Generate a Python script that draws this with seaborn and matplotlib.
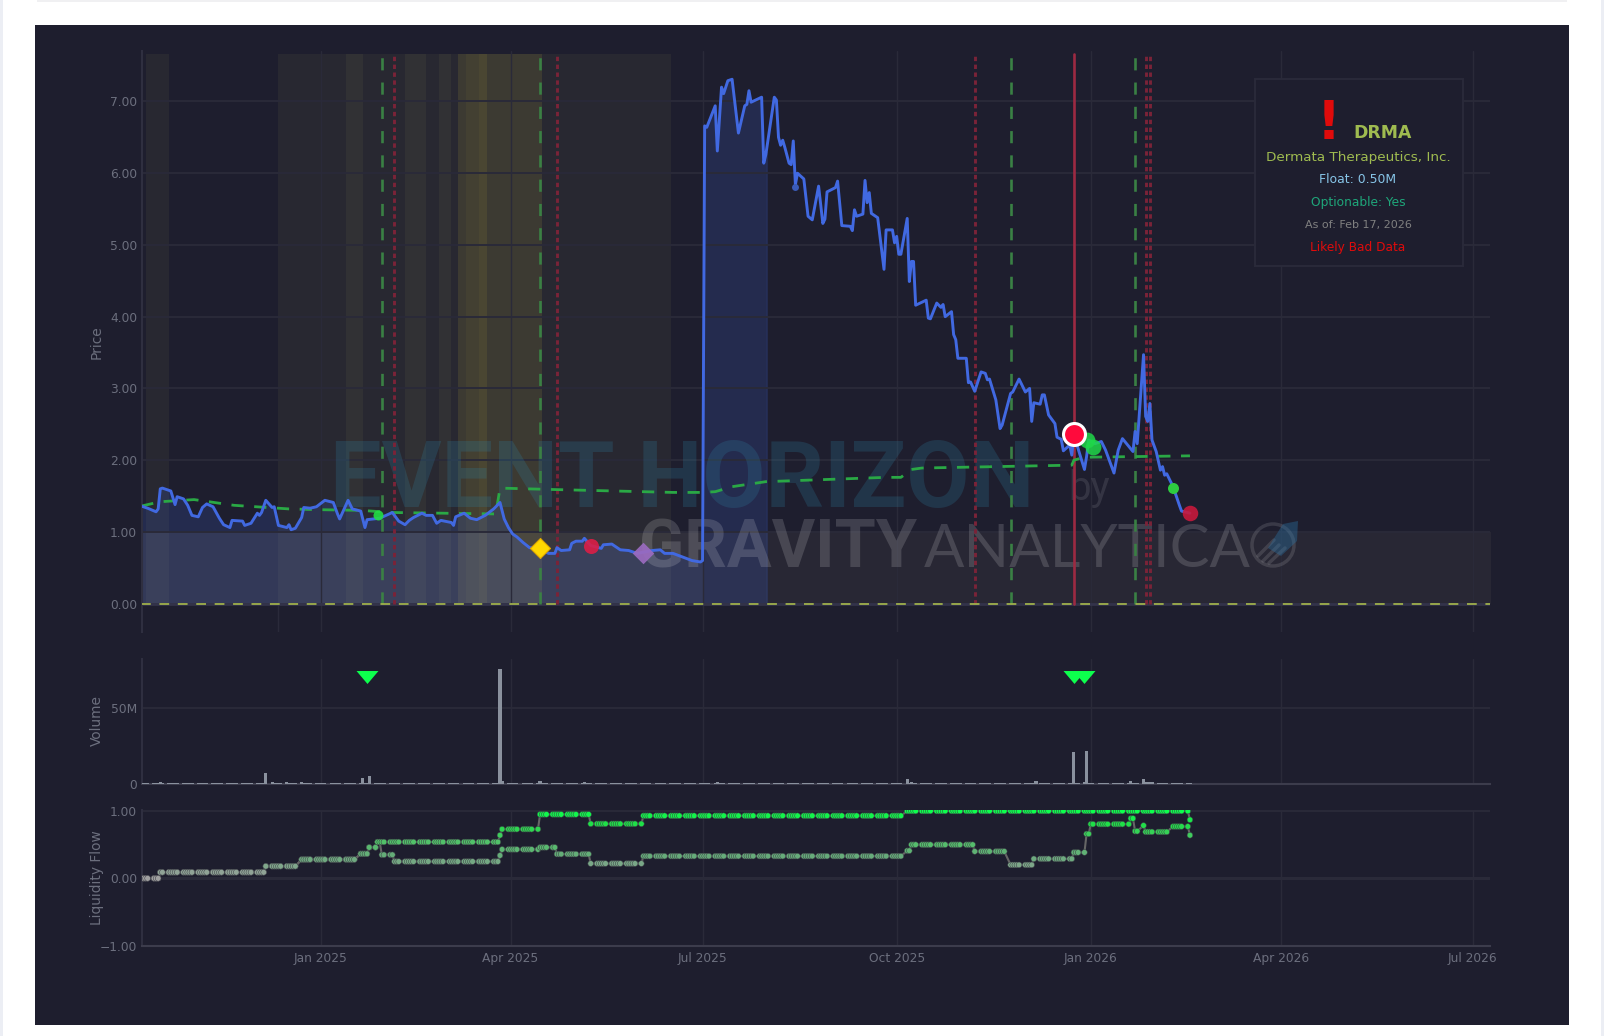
import numpy as np
import pandas as pd
import matplotlib
matplotlib.use('Agg')
import matplotlib.pyplot as plt
import matplotlib.dates as mdates
from matplotlib.colors import LinearSegmentedColormap
from matplotlib.patches import Rectangle, Circle, Polygon
from matplotlib.transforms import Affine2D
import seaborn as sns

W, H = 1604, 1036
BG = '#1e1e2e'
GRID = '#2a2a39'
MUTED = '#6c6f7e'

# Data: days counted from 2025-01-01
price_days = [
    -85, -82, -78, -77, -76, -75, -71, -69, -68, -65,
    -63, -61, -58, -56, -54, -51, -48, -46, -43, -42,
    -37, -36, -33, -30, -29, -28, -26, -23, -22, -20,
    -16, -15, -14, -12, -9, -8, -5, -2, 2, 6,
    8, 9, 13, 15, 19, 21, 22, 28, 34, 37,
    40, 42, 44, 48, 50, 53, 55, 57, 62, 63,
    64, 68, 71, 74, 78, 82, 85, 87, 89, 91,
    93, 96, 99, 104, 108, 111, 112, 114, 118, 119,
    121, 124, 125, 128, 133, 134, 138, 142, 146, 150,
    157, 161, 163, 167, 176, 180, 181, 182, 183, 187,
    188, 190, 191, 193, 195, 198, 201, 202, 203, 204,
    209, 210, 211, 215, 216, 217, 218, 219, 220, 222,
    223, 224, 225, 226, 229, 231, 233, 236, 238, 239,
    240, 244, 245, 247, 251, 252, 253, 254, 257, 258,
    259, 260, 261, 264, 267, 268, 271, 272, 273, 274,
    275, 278, 279, 280, 281, 282, 287, 288, 289, 292,
    294, 295, 296, 299, 300, 301, 302, 306, 307, 308,
    310, 313, 315, 316, 317, 320, 322, 323, 327, 328,
    331, 334, 336, 337, 338, 341, 342, 343, 345, 348,
    349, 351, 352, 355, 356, 357, 362, 363, 364, 367,
    370, 372, 376, 378, 380, 385, 386, 387, 390, 391,
    392, 393, 394, 396, 398, 399, 400, 401, 404, 407,
    408, 412,
]
price_values = [
    1.36, 1.33, 1.28, 1.32, 1.60, 1.61, 1.57, 1.38, 1.49, 1.46,
    1.37, 1.23, 1.21, 1.34, 1.39, 1.35, 1.19, 1.10, 1.06, 1.16,
    1.15, 1.09, 1.12, 1.26, 1.23, 1.27, 1.44, 1.34, 1.35, 1.09,
    1.06, 1.10, 1.03, 1.05, 1.20, 1.34, 1.33, 1.35, 1.44, 1.41,
    1.25, 1.18, 1.44, 1.32, 1.29, 1.06, 1.17, 1.19, 1.27, 1.15,
    1.10, 1.16, 1.20, 1.26, 1.23, 1.23, 1.12, 1.16, 1.13, 1.09,
    1.21, 1.26, 1.19, 1.17, 1.23, 1.32, 1.41, 1.18, 1.06, 0.97,
    0.93, 0.85, 0.78, 0.77, 0.70, 0.70, 0.78, 0.74, 0.75, 0.84,
    0.87, 0.87, 0.91, 0.81, 0.77, 0.82, 0.83, 0.75, 0.74, 0.70,
    0.74, 0.75, 0.70, 0.70, 0.60, 0.58, 0.60, 6.66, 6.64, 6.94,
    6.31, 7.20, 7.11, 7.29, 7.31, 6.56, 6.94, 6.96, 7.15, 6.99,
    7.06, 6.14, 6.26, 7.06, 7.02, 6.50, 6.39, 6.46, 6.36, 6.14,
    6.12, 6.45, 5.84, 6.00, 5.92, 5.40, 5.35, 5.82, 5.30, 5.36,
    5.74, 5.80, 5.89, 5.27, 5.26, 5.20, 5.49, 5.40, 5.43, 5.90,
    5.59, 5.73, 5.44, 5.38, 4.66, 5.21, 5.21, 5.03, 5.12, 4.87,
    4.87, 5.37, 4.49, 4.77, 4.77, 4.16, 4.23, 3.98, 3.97, 4.19,
    4.13, 4.17, 4.00, 4.07, 3.75, 3.68, 3.42, 3.42, 3.08, 3.09,
    2.96, 3.23, 3.21, 3.12, 3.13, 2.84, 2.44, 2.49, 2.93, 2.95,
    3.13, 2.95, 3.00, 2.54, 2.80, 2.78, 2.91, 2.91, 2.63, 2.51,
    2.32, 2.29, 2.13, 2.21, 2.07, 2.35, 1.87, 2.05, 2.28, 2.23,
    2.26, 2.14, 1.82, 2.14, 2.30, 2.12, 2.40, 2.23, 3.47, 2.61,
    2.54, 2.79, 2.28, 2.12, 1.86, 1.91, 1.79, 1.81, 1.63, 1.37,
    1.29, 1.26,
]
avg_days = [-85, -76, -60, -41, -15, -2, 19, 34, 83, 85, 111, 167, 180, 187, 195, 211, 268, 275, 280, 285, 356, 357, 362, 412]
avg_values = [1.36, 1.42, 1.45, 1.37, 1.32, 1.31, 1.30, 1.27, 1.25, 1.61, 1.59, 1.55, 1.55, 1.56, 1.63, 1.70, 1.76, 1.76, 1.87, 1.89, 1.93, 2.00, 2.04, 2.06]

green_lines = [29, 104, 327, 386]
red_lines = [35, 112, 310, 391, 393]
alert_line = 357

band_starts = [-83, -20, 12, 40, 56]
band_ends = [-72, 166, 20, 50, 62]
yellow_starts = [65, 69, 75]
yellow_ends = [105, 79, 79]

vol_days = [-76, -26, -23, -16, -9, 20, 23, 85, 86, 104, 125, 188, 278, 280, 339, 357, 362, 363, 384, 390, 391, 392, 393, 394]
vol_values = [1.5, 7, 1.5, 1.2, 1.3, 4, 5.2, 76, 2, 1.8, 1.3, 1.2, 3.2, 1.5, 2.2, 21, 1.5, 22, 1.8, 3, 1.5, 1.4, 1.4, 1.4]
vol_quiet = 0.4
signal_days = [22, 357, 362]
signal_level = 70.8

liq_upper_days = [-85, -76, -26, -10, 17, 23, 27, 85, 86, 104, 128, 153, 277, 412]
liq_upper_values = [0.0, 0.09, 0.18, 0.28, 0.365, 0.46, 0.54, 0.64, 0.73, 0.95, 0.81, 0.93, 1.0, 0.87]
liq_lower_days = [-85, -76, -26, -10, 17, 23, 27, 29, 35, 85, 86, 104, 112, 128, 153, 277, 280, 310, 327, 338, 357, 363, 365, 384, 386, 390, 391, 404, 412]
liq_lower_values = [0.0, 0.09, 0.18, 0.28, 0.365, 0.46, 0.54, 0.35, 0.25, 0.34, 0.43, 0.46, 0.36, 0.22, 0.33, 0.41, 0.50, 0.40, 0.20, 0.29, 0.385, 0.66, 0.805, 0.89, 0.70, 0.785, 0.69, 0.77, 0.64]

tick_dates = ['2025-01-01', '2025-04-01', '2025-07-01', '2025-10-01', '2026-01-01', '2026-04-01', '2026-07-01']
tick_labels = ['Jan 2025', 'Apr 2025', 'Jul 2025', 'Oct 2025', 'Jan 2026', 'Apr 2026', 'Jul 2026']
price_ticks = [0, 1, 2, 3, 4, 5, 6, 7]
price_labels = ['0.00', '1.00', '2.00', '3.00', '4.00', '5.00', '6.00', '7.00']


def to_date(days):
    return pd.Timestamp('2025-01-01') + pd.to_timedelta(np.asarray(days), unit='D')


def make_axes(top, bottom):
    return fig.add_axes([141.5 / W, 1 - bottom / H, (1490 - 141.5) / W, (bottom - top) / H])


sns.set_theme(style='dark')
plt.rcParams['font.family'] = ['DejaVu Sans']

fig = plt.figure(figsize=(W / 100, H / 100), dpi=100, facecolor='white')
px = Affine2D().scale(1, -1).translate(0, H)

# Page and dark panel
fig.add_artist(Rectangle((35, 25), 1534, 1000, transform=px, facecolor=BG, edgecolor='none', zorder=-5))
fig.add_artist(Rectangle((0, 0), 3, H, transform=px, facecolor='#eceef4', edgecolor='none', zorder=-5))
fig.add_artist(Rectangle((1601, 0), 3, H, transform=px, facecolor='#eceef4', edgecolor='none', zorder=-5))
fig.add_artist(Rectangle((37, 0), 1530, 2, transform=px, facecolor='#f0f0f2', edgecolor='none', zorder=-5))

ax_price = make_axes(51, 632)
ax_vol = make_axes(659, 784)
ax_liq = make_axes(810, 945.7)

price_dates = to_date(price_days)
price_arr = np.array(price_values)

# Shaded regions on the price panel
for s, e in zip(band_starts, band_ends):
    ax_price.fill_between(to_date([s, e]), 0, 7.66, color='#b4b464', alpha=0.07, linewidth=0, zorder=1)
for s, e, a in zip(yellow_starts, yellow_ends, [0.13, 0.05, 0.06]):
    ax_price.fill_between(to_date([s, e]), 0, 7.66, color='#c8b43c', alpha=a, linewidth=0, zorder=1)
ax_price.fill_between(to_date([-85, 555]), 0, 1, color='#b4a48c', alpha=0.07, linewidth=0, zorder=1)
ax_price.fill_between(to_date([-85, 181]), 0, 1, color='#ffffff', alpha=0.04, linewidth=0, zorder=1)
keep = np.array(price_days) <= 211
ax_price.fill_between(price_dates[keep], 0, price_arr[keep], color='#4169e1', alpha=0.18, linewidth=0, zorder=1)
last_fill = to_date([211, 212])
ax_price.fill_between(last_fill, 0, 6.3, color='#4169e1', alpha=0.18, linewidth=0, zorder=1)

# Watermark
ax_price.text(330, 506.7, 'EVENT HORIZON', transform=px, fontsize=66, family='Roboto', weight='bold', color='#2e7fa0',
              alpha=0.24, ha='left', va='baseline', zorder=3, clip_on=False)
ax_price.text(1068, 500, 'by', transform=px, fontsize=29, family='Roboto', color='#ffffff',
              alpha=0.1, ha='left', va='baseline', zorder=3)
ax_price.text(639, 567, 'GRAVITY', transform=px, fontsize=48, family='Roboto', weight='bold', color='#ffffff',
              alpha=0.15, ha='left', va='baseline', zorder=3)
ax_price.text(924, 567, 'ANALYTICA', transform=px, fontsize=43, family='Lato', color='#ffffff',
              alpha=0.15, ha='left', va='baseline', zorder=3)
ax_price.add_patch(Circle((1273, 545), 21, transform=px, facecolor='none', edgecolor='#ffffff', alpha=0.12, linewidth=2.5, zorder=3))
for x0, y0, x1, y1 in [(1258, 556, 1274, 540), (1263, 561, 1279, 545), (1269, 563, 1285, 548)]:
    ax_price.plot([x0, x1], [y0, y1], transform=px, color='#ffffff', alpha=0.12, linewidth=2.5, zorder=3)
ax_price.add_patch(Polygon([(1298, 521), (1297, 541), (1281, 556), (1268, 548), (1283, 524)], transform=px,
                           facecolor='#2a6f9f', alpha=0.4, edgecolor='none', zorder=3))

# Event lines
top_line = 7.66
for d in green_lines:
    ax_price.plot(to_date([d, d]), [0, top_line], color='#3a8044', linewidth=1.9, dashes=(4.6, 4.6), zorder=3.2)
for d in red_lines:
    ax_price.plot(to_date([d, d]), [0, top_line], color='#7a2338', linewidth=2.1, dashes=(1.5, 1.2), zorder=3.2)
ax_price.plot(to_date([alert_line, alert_line]), [0, top_line], color='#9c2a42', linewidth=1.9, zorder=3.3)
ax_price.axhline(0, color='#33334a', linewidth=2, zorder=2)
ax_price.plot(to_date([-85, 555]), [0, 0], color='#9fb04c', linewidth=1.3, dashes=(5.4, 4.8), zorder=3.4)
ax_price.plot(to_date([-20, -20]), [-0.4, 0], color='#2a2a3a', linewidth=1, zorder=1.5)

# Price and average lines
sns.lineplot(x=to_date(avg_days), y=avg_values, ax=ax_price, color='#2aa845', linewidth=2.0, sort=False,
             estimator=None, dashes=(4.4, 3.8), zorder=4)
sns.lineplot(x=price_dates, y=price_values, ax=ax_price, color='#4169e1', linewidth=2.1, sort=False,
             estimator=None, zorder=5)

# Event markers
sns.scatterplot(x=to_date([225]), y=[5.81], ax=ax_price, color='#3a5bb8', s=25, linewidth=0, zorder=6)
sns.scatterplot(x=to_date([27]), y=[1.235], ax=ax_price, color='#22dd44', s=52, linewidth=0, alpha=0.9, zorder=6)
sns.scatterplot(x=to_date([404]), y=[1.61], ax=ax_price, color='#2ecc40', s=63, linewidth=0, zorder=6)
sns.scatterplot(x=to_date([128]), y=[0.806], ax=ax_price, color='#dc1e46', s=117, linewidth=0, alpha=0.9, zorder=6)
sns.scatterplot(x=to_date([412]), y=[1.26], ax=ax_price, color='#c8193c', s=125, linewidth=0, alpha=0.9, zorder=6)
sns.scatterplot(x=to_date([104]), y=[0.78], ax=ax_price, color='#ffd700', marker='D', s=104, edgecolor='#e0a800',
                linewidth=0.8, zorder=6)
sns.scatterplot(x=to_date([153]), y=[0.70], ax=ax_price, color='#9b6bc0', marker='D', s=120, linewidth=0, alpha=0.92, zorder=6)
sns.scatterplot(x=to_date([363, 366]), y=[2.28, 2.18], ax=ax_price, color='#1fd848', s=130, linewidth=0, alpha=0.85, zorder=6)
sns.scatterplot(x=to_date([alert_line]), y=[2.37], ax=ax_price, color='#ff0a3c', s=250, edgecolor='white', linewidth=2.2, zorder=7)

# Volume panel
bdays = pd.bdate_range('2024-10-08', '2026-02-17')
volume = pd.Series(vol_quiet, index=bdays)
volume = volume.reindex(bdays.union(to_date(vol_days)))
volume.loc[to_date(vol_days)] = vol_values
vol_x = mdates.date2num(volume.index.to_pydatetime())
sns.barplot(x=vol_x, y=volume.values, ax=ax_vol, native_scale=True, color='#8a919e', width=1.5, saturation=1, linewidth=0, zorder=3)
sns.scatterplot(x=mdates.date2num(to_date(signal_days).to_pydatetime()), y=[signal_level] * len(signal_days), ax=ax_vol,
                color='#0dff4d', marker=[(-11, 6.5), (11, 6.5), (0, -6.5)], s=250, linewidth=0, zorder=6)

# Liquidity panel
liq_cmap = LinearSegmentedColormap.from_list('liq', [(0, '#a0a0a0'), (0.33, '#66ab7a'), (0.55, '#50c268'), (0.8, '#20de48'), (1, '#0dff4d')])
for step_days, step_values in [(liq_lower_days, liq_lower_values), (liq_upper_days, liq_upper_values)]:
    steps = pd.Series(step_values, index=to_date(step_days))
    series = steps.reindex(bdays.union(steps.index)).ffill().loc[bdays]
    sns.lineplot(x=series.index, y=series.values, ax=ax_liq, color='#666666', linewidth=1.5, sort=False, estimator=None, zorder=3)
    sns.scatterplot(x=series.index, y=series.values, ax=ax_liq, hue=series.values, palette=liq_cmap, hue_norm=(0, 1),
                    s=17, edgecolor='#3a3a44', linewidth=0.35, legend=False, zorder=4)

# Axes styling
xmin = mdates.date2num(pd.Timestamp('2025-01-01') - pd.Timedelta(days=84.9))
xmax = mdates.date2num(pd.Timestamp('2025-01-01') + pd.Timedelta(days=554.2))
xtick_pos = mdates.date2num(pd.to_datetime(tick_dates).to_pydatetime())
for ax in [ax_price, ax_vol, ax_liq]:
    ax.set_facecolor('none')
    ax.set_xlim(xmin, xmax)
    ax.set_xticks(xtick_pos)
    ax.set_xticklabels([])
    ax.set_xlabel('')
    ax.set_ylabel('')
    ax.set_axisbelow('line')
    ax.grid(axis='x', color=GRID, linewidth=1.0)
    ax.grid(axis='y', color=GRID, linewidth=1.4)
    ax.tick_params(axis='both', length=0, labelsize=8.8, labelcolor=MUTED, pad=3.2)
    for name in ['top', 'right', 'bottom']:
        ax.spines[name].set_visible(False)
    ax.spines['left'].set_visible(True)
    ax.spines['left'].set_color('#2f2f40')
    ax.spines['left'].set_linewidth(1.5)

ax_price.set_ylim(-0.396, 7.704)
ax_price.set_yticks(price_ticks)
ax_price.set_yticklabels(price_labels)

ax_vol.set_ylim(0, 82.7)
ax_vol.set_yticks([0, 50])
ax_vol.set_yticklabels(['0', '50M'])
ax_vol.spines['bottom'].set_visible(True)
ax_vol.spines['bottom'].set_color('#3c3c4c')
ax_vol.spines['bottom'].set_linewidth(1.5)

ax_liq.set_ylim(-1, 1.015)
ax_liq.set_yticks([-1, 0, 1])
ax_liq.set_yticklabels(['\u22121.00', '0.00', '1.00'])
ax_liq.get_ygridlines()[1].set_linewidth(2.2)
ax_liq.spines['bottom'].set_visible(True)
ax_liq.spines['bottom'].set_color('#3c3c4c')
ax_liq.spines['bottom'].set_linewidth(1.5)
ax_liq.set_xticklabels(tick_labels)
ax_liq.tick_params(axis='x', pad=4.6)

# Axis titles
for title, y in [('Price', 342), ('Volume', 721), ('Liquidity Flow', 878)]:
    fig.text(97, y, title, transform=px, rotation=90, ha='center', va='center', fontsize=9.9, color=MUTED)

# Info box
ax_price.add_patch(Rectangle((1255, 78.5), 207.7, 187.2, transform=px, facecolor=BG, edgecolor='#2a2a3a',
                             linewidth=1.4, zorder=8, clip_on=False))
info = [
    (1382.7, 132.5, 'DRMA', 12.4, '#9fbb50', 'bold'),
    (1358, 157, 'Dermata Therapeutics, Inc.', 9.7, '#9fbb50', 'normal'),
    (1358, 179.5, 'Float: 0.50M', 8.9, '#87c5e8', 'normal'),
    (1358, 202.5, 'Optionable: Yes', 8.8, '#1fa67a', 'normal'),
    (1358, 225, 'As of: Feb 17, 2026', 8.0, '#808080', 'normal'),
    (1358, 247, 'Likely Bad Data', 8.7, '#e00b0b', 'normal'),
]
for x, y, label, size, col, wt in info:
    ax_price.text(x, y, label, transform=px, ha='center', va='center', fontsize=size, color=col, weight=wt, zorder=9)
ax_price.text(1328.7, 124, '!', transform=px, ha='center', va='center', fontsize=38, color='#e00b0b', weight='bold', zorder=9)

fig.savefig('out.png', dpi=100, facecolor='white')
